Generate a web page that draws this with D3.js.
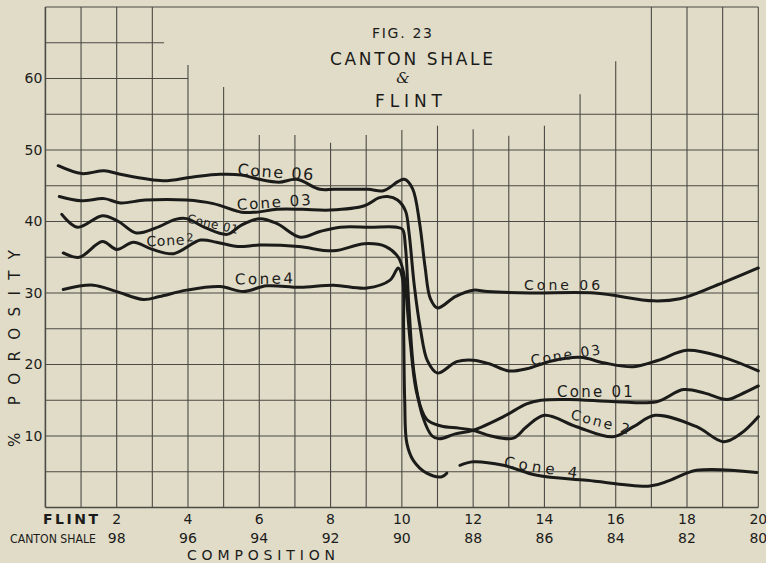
<!DOCTYPE html>
<html>
<head>
<meta charset="utf-8">
<title>Fig. 23 Canton Shale & Flint</title>
<style>
    body { margin: 0; background: #e0dcc8; }
    svg { display: block; }
</style>
</head>
<body>
<script src="https://cdn.jsdelivr.net/npm/d3@7/dist/d3.min.js"></script>
<script>
// canvas size
let width = 766,
    height = 563;

// tick labels along the bottom (flint % and canton shale %)
const xTicks = [2, 4, 6, 8, 10, 12, 14, 16, 18, 20];
const flintLabels = ["2", "4", "6", "8", "10", "12", "14", "16", "18", "20"];
const shaleLabels = ["98", "96", "94", "92", "90", "88", "86", "84", "82", "80"];
const yTicks = [10, 20, 30, 40, 50, 60];

// how high each vertical grid line reaches (in % porosity), x = 0..20
const gridTops = [70, 70, 70, 70, 61.9, 58.8, 52.1, 52.1, 51, 52.1, 52.8,
    53.4, 52.9, 52, 53.4, 57.8, 62.4, 70, 70, 70, 70];
// how far right each horizontal grid line reaches (in flint %), y = 0..70 step 5
const gridRights = [20, 20, 20, 20, 20, 20, 20, 20, 20, 20, 20, 20, 4, 3.33, 20];

// curves: [flint %, % porosity]
const cone06 = [[0.36, 47.8], [1.02, 46.7], [1.65, 47.1], [2.1, 46.6], [3.3, 45.7], [4.1, 46.2],
    [4.9, 46.6], [5.5, 46.5], [6.0, 45.9], [6.55, 45.5], [7.05, 45.9], [7.7, 44.5], [8.1, 44.5],
    [9.05, 44.5], [9.48, 44.3], [9.9, 45.6], [10.07, 45.9], [10.3, 44.6], [10.5, 39.7],
    [10.65, 33.7], [10.8, 29.2], [11.0, 27.9], [11.5, 29.5], [12.0, 30.4], [12.4, 30.2],
    [13.6, 30.0], [15.4, 30.0], [17.06, 28.9], [17.8, 29.2], [18.74, 30.9], [20, 33.5]];
const cone03 = [[0.39, 43.5], [1.0, 42.9], [1.65, 43.2], [2.1, 42.6], [2.8, 43.0], [3.96, 43.0],
    [4.71, 42.5], [5.5, 41.3], [5.9, 41.3], [6.5, 41.7], [7.2, 41.7], [7.99, 41.6], [8.95, 42.2],
    [9.35, 43.3], [9.6, 43.5], [9.88, 43.0], [10.1, 41.5], [10.2, 38.5], [10.35, 31.0],
    [10.52, 25.0], [10.72, 20.5], [11.0, 18.8], [11.54, 20.4], [12.0, 20.6], [12.45, 20.1],
    [13.0, 19.1], [13.5, 19.4], [14.2, 20.5], [15.0, 21.0], [15.7, 20.2], [16.5, 19.7],
    [17.2, 20.6], [18.0, 22.0], [19.02, 21.0], [20, 19.1]];
const cone01 = [[0.46, 41.0], [0.9, 39.2], [1.6, 40.8], [2.05, 40.0], [2.55, 38.4], [3.1, 39.1],
    [3.65, 40.3], [3.96, 40.4], [4.5, 39.1], [5.1, 38.2], [5.5, 39.5], [6.02, 40.4], [6.5, 39.7],
    [7.15, 37.8], [7.7, 38.6], [8.27, 39.2], [9.1, 39.2], [9.86, 39.2], [10.02, 38.9],
    [10.1, 36.5], [10.2, 28.0], [10.35, 18.5], [10.6, 12.5], [10.85, 10.0], [11.05, 9.6],
    [11.5, 10.3], [12.0, 10.8], [12.85, 12.7], [13.5, 14.5], [13.9, 15.0], [14.7, 15.1],
    [16.0, 14.8], [17.15, 14.8], [17.9, 16.5], [18.5, 16.0], [19.12, 15.1], [19.5, 15.8], [20, 17.0]];
const cone2 = [[0.5, 35.6], [0.95, 35.0], [1.6, 37.2], [2.0, 36.1], [2.47, 37.1], [3.0, 36.1],
    [3.6, 35.5], [4.35, 37.4], [4.8, 37.1], [5.4, 36.5], [6.0, 36.7], [7.1, 36.5], [8.08, 35.9],
    [8.95, 36.9], [9.55, 36.5], [9.9, 35.0], [10.05, 32.8], [10.23, 23.4], [10.42, 16.0],
    [10.7, 12.3], [11.1, 11.4], [11.6, 11.1], [12.0, 10.8], [12.5, 10.0], [13.13, 9.7],
    [13.5, 11.3], [14.0, 12.9], [14.9, 11.3], [15.93, 9.9], [16.5, 11.3], [17.1, 12.9],
    [18.27, 11.3], [19.02, 9.2], [19.5, 10.3], [20, 12.7]];
const cone4 = [[0.5, 30.5], [1.34, 31.1], [2.0, 30.2], [2.75, 29.1], [3.2, 29.5], [3.96, 30.4],
    [4.9, 30.9], [5.55, 30.2], [6.21, 31.0], [7.14, 30.8], [8.08, 31.1], [9.02, 30.7],
    [9.67, 31.8], [9.9, 33.5], [10.02, 32.0], [10.05, 25.0], [10.08, 15.0], [10.14, 9.0],
    [10.32, 6.6], [10.7, 4.8], [11.12, 4.3], [11.26, 4.8], null,
    [11.63, 5.9], [12.0, 6.4], [12.85, 5.9], [13.79, 4.5], [15.19, 3.8], [16.96, 3.0],
    [17.52, 3.8], [18.27, 5.2], [19.96, 4.9]];

const cones = [cone06, cone03, cone01, cone2, cone4];

// hand lettered curve names: text, flint %, porosity, angle, font size, length
const coneLabels = [
    ["Cone 06", 5.38, 46.5, 4, 16, 76],
    ["Cone 03", 5.38, 41.6, -4, 15, 74],
    ["Cone 01", 3.96, 39.9, 13, 12, 52],
    ["Cone", 2.84, 36.5, -3, 14, 38],
    ["Cone4", 5.32, 31.2, -1, 15, 58],
    ["Cone 06", 13.43, 30.4, 0, 14, 76],
    ["Cone 03", 13.64, 19.9, -9, 14, 70],
    ["Cone 01", 14.35, 15.5, 0, 15, 76],
    ["Cone 2", 14.72, 12.4, 15, 14, 60],
    ["Cone 4", 12.85, 5.7, 9, 15, 74]
];

let svg = d3.select("body").append("svg").attr("width", width).attr("height", height);

svg.append("rect").attr("width", width).attr("height", height).attr("fill", "#e0dcc8");

// scales
let x = d3.scaleLinear().domain([0, 20]).range([45.4, 758.3]);
let y = d3.scaleLinear().domain([0, 70]).range([507.5, 7]);

let ink = "#1b1b1a";
let gridInk = "#4b4a45";

// grid
let grid = svg.append("g");
grid.selectAll(".vline")
    .data(gridTops)
    .enter()
    .append("line")
    .attr("class", "vline")
    .attr("x1", (d, i) => x(i))
    .attr("x2", (d, i) => x(i))
    .attr("y1", y(0))
    .attr("y2", d => y(d))
    .attr("stroke", gridInk)
    .attr("stroke-width", (d, i) => i === 0 ? 1.6 : 1.1);

grid.selectAll(".hline")
    .data(gridRights)
    .enter()
    .append("line")
    .attr("class", "hline")
    .attr("x1", x(0))
    .attr("x2", d => x(d))
    .attr("y1", (d, i) => y(i * 5))
    .attr("y2", (d, i) => y(i * 5))
    .attr("stroke", gridInk)
    .attr("stroke-width", (d, i) => i === 0 ? 1.6 : 1.1);

// y axis numbers
let yAxis = d3.axisLeft(y).tickValues(yTicks).tickSize(0).tickPadding(3);
let yg = svg.append("g").attr("transform", "translate(" + x(0) + ",0)").call(yAxis);
yg.select(".domain").remove();
yg.selectAll("text")
    .attr("font-family", "DejaVu Sans")
    .attr("font-size", 14)
    .attr("fill", ink);

// bottom labels, two rows
let xb = svg.append("g");
xb.selectAll(".flint")
    .data(xTicks)
    .enter()
    .append("text")
    .attr("class", "flint")
    .attr("x", d => x(d))
    .attr("y", 524)
    .attr("text-anchor", "middle")
    .attr("font-family", "DejaVu Sans")
    .attr("font-size", 14)
    .attr("fill", ink)
    .text((d, i) => flintLabels[i]);

xb.selectAll(".shale")
    .data(xTicks)
    .enter()
    .append("text")
    .attr("class", "shale")
    .attr("x", d => x(d))
    .attr("y", 543)
    .attr("text-anchor", "middle")
    .attr("font-family", "DejaVu Sans")
    .attr("font-size", 14)
    .attr("fill", ink)
    .text((d, i) => shaleLabels[i]);

xb.append("text")
    .attr("x", 43).attr("y", 524)
    .attr("font-family", "DejaVu Sans")
    .attr("font-weight", "bold")
    .attr("font-size", 14)
    .attr("textLength", 55)
    .attr("fill", ink)
    .text("FLINT");

xb.append("text")
    .attr("x", 10).attr("y", 543)
    .attr("font-family", "DejaVu Sans")
    .attr("font-size", 12)
    .attr("textLength", 86)
    .attr("lengthAdjust", "spacingAndGlyphs")
    .attr("fill", ink)
    .text("CANTON SHALE");

xb.append("text")
    .attr("x", 187).attr("y", 560)
    .attr("font-family", "DejaVu Sans")
    .attr("font-size", 14)
    .attr("textLength", 148)
    .attr("fill", ink)
    .text("COMPOSITION");

// y axis title
svg.append("text")
    .attr("transform", "translate(20,447) rotate(-90)")
    .attr("font-family", "DejaVu Sans")
    .attr("font-size", 15)
    .attr("textLength", 197)
    .attr("fill", ink)
    .text("% POROSITY");

// title block
let title = svg.append("g").attr("fill", ink).attr("font-family", "DejaVu Sans");
title.append("text").attr("x", 372).attr("y", 38).attr("font-size", 14)
    .attr("textLength", 60).text("FIG. 23");
title.append("text").attr("x", 330).attr("y", 65).attr("font-size", 17)
    .attr("textLength", 163).text("CANTON SHALE");
title.append("text").attr("x", 403).attr("y", 83).attr("font-size", 15)
    .attr("text-anchor", "middle")
    .attr("font-family", "DejaVu Serif").attr("font-style", "italic").text("&");
title.append("text").attr("x", 375).attr("y", 107).attr("font-size", 17)
    .attr("textLength", 67).text("FLINT");

// curves
let line = d3.line()
    .defined(d => d !== null)
    .x(d => x(d[0]))
    .y(d => y(d[1]))
    .curve(d3.curveCatmullRom.alpha(0.5));

svg.append("g")
    .selectAll("path")
    .data(cones)
    .enter()
    .append("path")
    .attr("d", line)
    .attr("fill", "none")
    .attr("stroke", ink)
    .attr("stroke-width", 3)
    .attr("stroke-linecap", "round")
    .attr("stroke-linejoin", "round");

// curve names
let lab = svg.append("g")
    .selectAll("text")
    .data(coneLabels)
    .enter()
    .append("text")
    .attr("transform", d => "translate(" + x(d[1]) + "," + y(d[2]) + ") rotate(" + d[3] + ")")
    .attr("font-family", "DejaVu Sans")
    .attr("font-size", d => d[4])
    .attr("textLength", d => d[5])
    .attr("fill", ink)
    .text(d => d[0]);

// little superscript 2 on the left Cone 2
svg.append("text")
    .attr("transform", "translate(" + (x(2.84) + 40) + "," + (y(36.5) - 5) + ") rotate(-3)")
    .attr("font-family", "DejaVu Sans")
    .attr("font-size", 11)
    .attr("fill", ink)
    .text("2");
</script>
</body>
</html>
